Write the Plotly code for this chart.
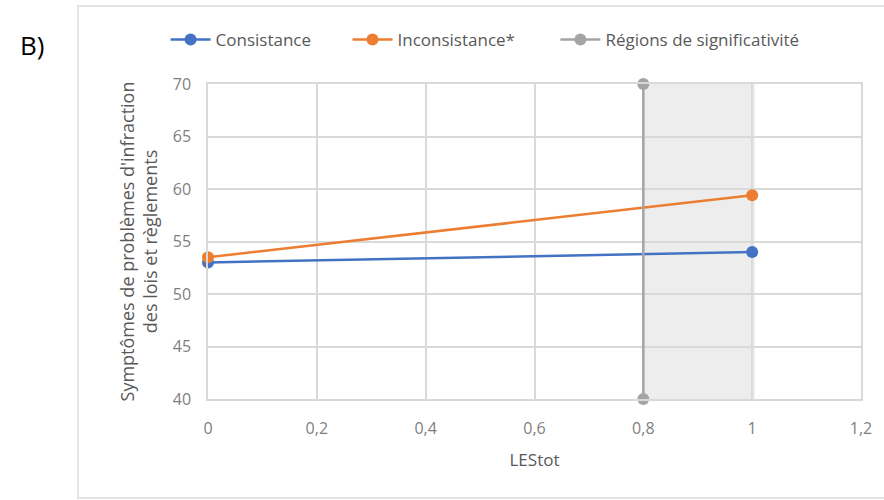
import plotly.graph_objects as go

# LEStot values (x) and predicted symptom scores
les = [0, 1]
consistance = [53.0, 54.0]
inconsistance = [53.5, 59.4]

# Johnson-Neyman boundary of the region of significance
region_x = [0.8, 0.8]
region_y = [40, 70]
region_end = 1.005

x_ticks = [0, 0.2, 0.4, 0.6, 0.8, 1.0, 1.2]
y_ticks = [40, 45, 50, 55, 60, 65, 70]

BLUE = "#4472C4"
ORANGE = "#ED7D31"
GREY = "#A5A5A5"
TEXT = "#595959"
TICK = "#7F7F7F"
GRID = "#D9D9D9"
FONT = "Open Sans"

fig = go.Figure()

fig.add_trace(go.Scatter(
    x=les, y=consistance, name="Consistance", mode="lines+markers",
    line=dict(color=BLUE, width=2.5), marker=dict(size=12, color=BLUE),
    cliponaxis=False, legend="legend",
))
fig.add_trace(go.Scatter(
    x=les, y=inconsistance, name="Inconsistance*", mode="lines+markers",
    line=dict(color=ORANGE, width=2.5), marker=dict(size=12, color=ORANGE),
    cliponaxis=False, legend="legend2",
))
fig.add_trace(go.Scatter(
    x=region_x, y=region_y, name="Régions de significativité", mode="lines+markers",
    line=dict(color=GREY, width=2.5), marker=dict(size=12, color=GREY),
    cliponaxis=False, legend="legend3",
))

# shaded significant region
fig.add_shape(type="rect", xref="x", yref="y",
              x0=region_x[0], x1=region_end, y0=region_y[0], y1=region_y[1],
              fillcolor="#EDEDED", line=dict(width=0), layer="below")

# outer chart frame
fig.add_shape(type="rect", xref="paper", yref="paper",
              x0=-0.199, x1=1.2, y0=-0.3143, y1=1.2476,
              line=dict(color="#DDDDDD", width=1.5), fillcolor="rgba(0,0,0,0)",
              layer="below")

fig.add_annotation(text="B)", xref="paper", yref="paper", x=-0.2695, y=1.124,
                   xanchor="center", yanchor="middle", showarrow=False,
                   font=dict(family=FONT, size=26, color="#000000"))

legend_style = dict(orientation="h", y=1.14, xanchor="left", yanchor="middle",
                    font=dict(family=FONT, size=17, color=TEXT),
                    itemwidth=40, bgcolor="rgba(0,0,0,0)")

fig.update_layout(
    width=884, height=500,
    margin=dict(l=208, r=23, t=84, b=101),
    paper_bgcolor="white", plot_bgcolor="white",
    separators=", ",
    font=dict(family=FONT, color=TEXT, size=16),
    showlegend=True,
    legend=dict(x=-0.065, **legend_style),
    legend2=dict(x=0.2136, **legend_style),
    legend3=dict(x=0.532, **legend_style),
    xaxis=dict(range=[0, 1.2], tickvals=x_ticks, showgrid=True, gridcolor=GRID,
               gridwidth=1.5, zeroline=False, showline=True, linecolor=GRID,
               linewidth=1.5, mirror=True, ticks="", ticklabelstandoff=14,
               title=dict(text="LEStot", font=dict(size=17, color=TEXT), standoff=16),
               tickfont=dict(size=16, color=TICK)),
    yaxis=dict(range=[40, 70], tickvals=y_ticks, showgrid=True, gridcolor=GRID,
               gridwidth=1.5, zeroline=False, showline=True, linecolor=GRID,
               linewidth=1.5, mirror=True, ticks="", ticklabelstandoff=12,
               title=dict(text="Symptômes de problèmes d'infraction<br>des lois et règlements",
                          font=dict(size=18, color=TEXT), standoff=10),
               tickfont=dict(size=16, color=TICK)),
)

fig.write_html("out.html")
